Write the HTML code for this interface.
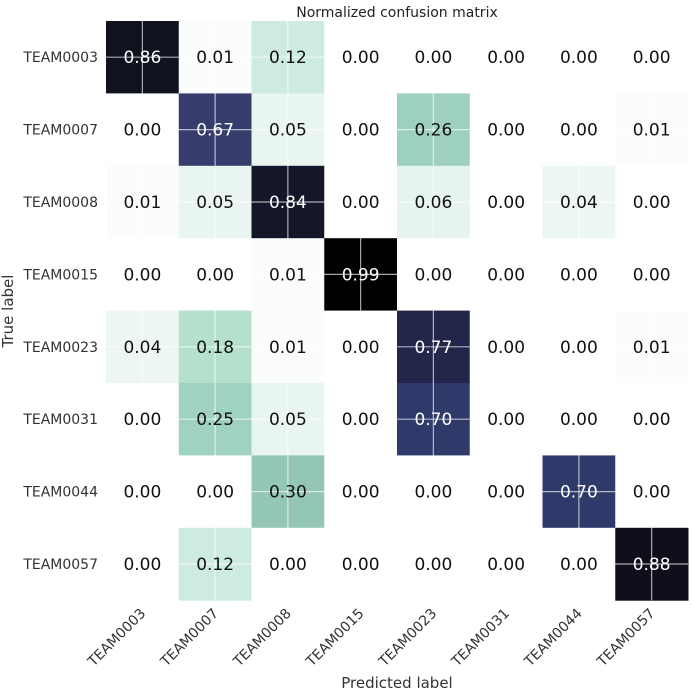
<!DOCTYPE html>
<html><head><meta charset="utf-8"><style>
body{margin:0;background:#fff;font-family:"DejaVu Sans","Liberation Sans",sans-serif}
</style></head><body>
<svg id="chart" width="692" height="692" xmlns="http://www.w3.org/2000/svg">
<text x="397" y="17" font-size="14" text-anchor="middle" fill="#222">Normalized confusion matrix</text>
<text transform="translate(13,311) rotate(-90)" font-size="15" text-anchor="middle" fill="#333">True label</text>
<text x="397" y="688" font-size="15" text-anchor="middle" fill="#333">Predicted label</text>
<g id="cells"></g><g id="grid"></g><g id="vals"></g><g id="ticks"></g>
</svg>
<script>
const labels=["TEAM0003","TEAM0007","TEAM0008","TEAM0015","TEAM0023","TEAM0031","TEAM0044","TEAM0057"];
const row0=[0.86,0.01,0.12,0.00,0.00,0.00,0.00,0.00];
const row1=[0.00,0.67,0.05,0.00,0.26,0.00,0.00,0.01];
const row2=[0.01,0.05,0.84,0.00,0.06,0.00,0.04,0.00];
const row3=[0.00,0.00,0.01,0.99,0.00,0.00,0.00,0.00];
const row4=[0.04,0.18,0.01,0.00,0.77,0.00,0.00,0.01];
const row5=[0.00,0.25,0.05,0.00,0.70,0.00,0.00,0.00];
const row6=[0.00,0.00,0.30,0.00,0.00,0.00,0.70,0.00];
const row7=[0.00,0.12,0.00,0.00,0.00,0.00,0.00,0.88];
const matrix=[row0,row1,row2,row3,row4,row5,row6,row7];
const L=106,T=21,CW=72.75,CH=72.4;
const xs=i=>L+i*CW, ys=j=>T+j*CH;
const stops=[[0,[255,255,255]],[0.05,[233,245,239]],[0.12,[205,235,223]],[0.18,[181,224,206]],[0.26,[157,208,191]],[0.30,[148,198,182]],[0.45,[95,140,150]],[0.67,[54,60,108]],[0.70,[47,57,106]],[0.77,[33,38,74]],[0.86,[16,18,31]],[1,[0,0,0]]];
function col(v){for(let k=1;k<stops.length;k++){if(v<=stops[k][0]){const a=stops[k-1],b=stops[k],t=(v-a[0])/(b[0]-a[0]);return 'rgb('+a[1].map((c,i)=>Math.round(c+(b[1][i]-c)*t)).join(',')+')';}}return '#000';}
const NS="http://www.w3.org/2000/svg";
function mk(t,p,at){const e=document.createElementNS(NS,t);for(const k in at)e.setAttribute(k,at[k]);p.appendChild(e);return e;}
const gc=document.getElementById('cells'),gg=document.getElementById('grid'),gv=document.getElementById('vals'),gt=document.getElementById('ticks');
matrix.forEach((r,j)=>r.forEach((v,i)=>{
 const c=mk('rect',gc,{x:xs(i),y:ys(j),width:CW+0.5,height:CH+0.5,fill:col(v)});
 
 
 const t=mk('text',gv,{x:xs(i)+CW/2,y:ys(j)+CH/2+6,'font-size':17,'text-anchor':'middle',fill:v>0.5?'#fff':'#111'});
 t.textContent=v.toFixed(2);
 
 
}));
labels.forEach((l,i)=>{
 const cx=xs(i)+CW/2, cy=ys(i)+CH/2;
 const vl=mk('line',gg,{x1:cx,x2:cx,y1:T,y2:T+8*CH,stroke:'rgba(255,255,255,0.65)','stroke-width':1.2});
 
 
 const hl=mk('line',gg,{y1:cy,y2:cy,x1:L,x2:L+8*CW,stroke:'rgba(255,255,255,0.65)','stroke-width':1.2});
 
 
 const yt=mk('text',gt,{x:98,y:cy+5,'font-size':14,'text-anchor':'end',fill:'#333'});
 yt.textContent=l;
 
 
 const xt=mk('text',gt,{transform:'translate('+(cx+4)+','+(T+8*CH+14)+') rotate(-45)','font-size':14,'text-anchor':'end',fill:'#333'});
 xt.textContent=l;
 
 
});
</script>
</body></html>
